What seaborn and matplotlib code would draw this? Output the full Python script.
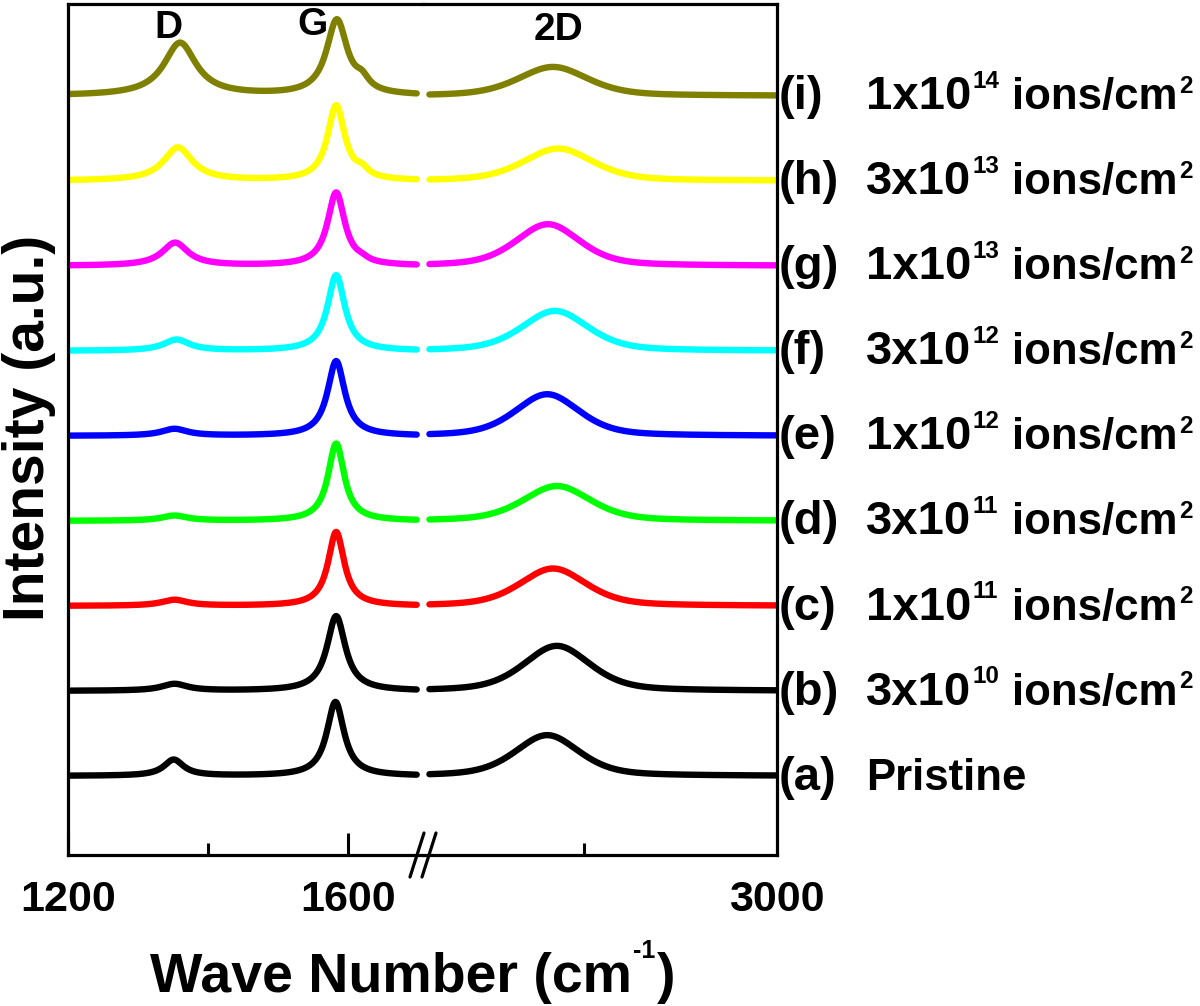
import numpy as np
import pandas as pd
import matplotlib
matplotlib.use("Agg")
import matplotlib.pyplot as plt
import matplotlib.transforms as mtransforms
from matplotlib.lines import Line2D
import seaborn as sns

# samples from bottom (a) to top (i)
samples = ["a", "b", "c", "d", "e", "f", "g", "h", "i"]
tags = ["(a)", "(b)", "(c)", "(d)", "(e)", "(f)", "(g)", "(h)", "(i)"]
doses = ["Pristine", "3x10", "1x10", "3x10", "1x10", "3x10", "1x10", "3x10", "1x10"]
exponents = [None, "10", "11", "11", "12", "12", "13", "13", "14"]
colors = ["#000000", "#000000", "#ff0000", "#00ff00", "#0000ff",
          "#00ffff", "#ff00ff", "#ffff00", "#808000"]

# peak parameters (position cm-1, height a.u., fwhm cm-1)
d_pos = [1351, 1352, 1352, 1352, 1352, 1355, 1353, 1357, 1360]
d_height = [0.19, 0.08, 0.07, 0.06, 0.08, 0.13, 0.27, 0.39, 0.62]
d_fwhm = [34, 45, 45, 45, 45, 45, 45, 50, 56]
g_pos = [1582, 1583, 1583, 1583, 1583, 1583, 1583, 1583, 1584]
g_height = [0.87, 0.88, 0.87, 0.91, 0.88, 0.89, 0.86, 0.88, 0.88]
g_fwhm = [30, 32, 28, 28, 30, 30, 30, 30, 36]
dp_pos = [1620, 1620, 1620, 1620, 1620, 1620, 1620, 1620, 1620]
dp_height = [0.0, 0.0, 0.0, 0.0, 0.0, 0.0, 0.03, 0.08, 0.12]
dp_fwhm = [20, 20, 20, 20, 20, 20, 20, 22, 24]
twod_pos = [2643, 2658, 2652, 2658, 2643, 2655, 2644, 2660, 2652]
twod_height = [0.48, 0.53, 0.44, 0.41, 0.49, 0.47, 0.49, 0.38, 0.34]
twod_fwhm = [118, 122, 122, 124, 118, 122, 118, 128, 128]

left_wn = np.arange(1200, 1699, 1.0)
right_wn = np.arange(2460, 3001, 1.0)


def peak(x, pos, height, fwhm, eta=1.0):
    # pseudo-Voigt, eta=1 is a pure Lorentzian
    u = (x - pos) / (fwhm / 2)
    return height * (eta / (1 + u ** 2) + (1 - eta) * np.exp(-np.log(2) * u ** 2))


left_rows = []
right_rows = []
for k, s in enumerate(samples):
    yl = (k + peak(left_wn, d_pos[k], d_height[k], d_fwhm[k])
          + peak(left_wn, g_pos[k], g_height[k], g_fwhm[k])
          + peak(left_wn, dp_pos[k], dp_height[k], dp_fwhm[k]))
    yr = k + peak(right_wn, twod_pos[k], twod_height[k], twod_fwhm[k], eta=0.45)
    left_rows.append(pd.DataFrame({"wn": left_wn, "intensity": yl, "sample": s}))
    right_rows.append(pd.DataFrame({"wn": right_wn, "intensity": yr, "sample": s}))
df_left = pd.concat(left_rows, ignore_index=True)
df_right = pd.concat(right_rows, ignore_index=True)

sns.set_style("white")
plt.rcParams["font.family"] = ["Liberation Sans", "DejaVu Sans"]
plt.rcParams["font.weight"] = "bold"
plt.rcParams["text.color"] = "black"
plt.rcParams["axes.labelcolor"] = "black"
plt.rcParams["xtick.color"] = "black"

palette = dict(zip(samples, colors))

fig = plt.figure(figsize=(12, 10.06), dpi=100)
axL = fig.add_axes([68 / 1200, 1 - 855 / 1006, 355 / 1200, 851 / 1006])
axR = fig.add_axes([423 / 1200, 1 - 855 / 1006, 354 / 1200, 851 / 1006])

sns.lineplot(data=df_left, x="wn", y="intensity", hue="sample", palette=palette,
             hue_order=samples, estimator=None, sort=False, linewidth=4.6,
             legend=False, ax=axL)
sns.lineplot(data=df_right, x="wn", y="intensity", hue="sample", palette=palette,
             hue_order=samples, estimator=None, sort=False, linewidth=4.6,
             legend=False, ax=axR)

ylim = (-0.93, 9.08)
axL.set_xlim(1200, 1707)
axR.set_xlim(2450, 3000)
for ax in (axL, axR):
    ax.set_ylim(*ylim)
    ax.set_yticks([])
    ax.set_xlabel("")
    ax.set_ylabel("")
    for sp in ax.spines.values():
        sp.set_linewidth(2.3)
        sp.set_color("black")
    ax.tick_params(axis="x", which="both", direction="in", bottom=True, top=False,
                   width=2.2, labelsize=31, pad=18, colors="black")
    ax.tick_params(axis="x", which="major", length=16)
    ax.tick_params(axis="x", which="minor", length=8.5)

axL.spines["right"].set_visible(False)
axR.spines["left"].set_visible(False)
axL.set_xticks([1200, 1600])
axL.set_xticks([1400], minor=True)
axR.set_xticks([3000])
axR.set_xticks([2700], minor=True)
axR.tick_params(axis="x", which="major", length=0)

# peak names
axL.text(1343, 8.8, "D", fontsize=28, fontweight="bold", ha="center", va="center")
axL.text(1549, 8.83, "G", fontsize=28, fontweight="bold", ha="center", va="center")
axR.text(2660, 8.78, "2D", fontsize=28, fontweight="bold", ha="center", va="center")


def add_sup(ax, anchor, txt, size, rise):
    return ax.annotate(txt, xy=(1, 1), xycoords=anchor, xytext=(1, rise),
                       textcoords="offset points", fontsize=size, fontweight="bold",
                       ha="left", va="top", annotation_clip=False)


# sample labels at the right of the frame, in three columns
trans = mtransforms.blended_transform_factory(axR.transAxes, axR.transData)
x_tag = (779 - 423) / 354
x_dose = (866 - 423) / 354
x_ions = (1012 - 423) / 354
for k in range(len(samples)):
    y = k - 0.16
    axR.text(x_tag, y, tags[k], transform=trans, fontsize=34, fontweight="bold",
             ha="left", va="baseline", clip_on=False)
    if exponents[k] is None:
        axR.text(x_dose, y, doses[k], transform=trans, fontsize=31.5,
                 fontweight="bold", ha="left", va="baseline", clip_on=False)
        continue
    dose = axR.text(x_dose, y, doses[k], transform=trans, fontsize=34,
                    fontweight="bold", ha="left", va="baseline", clip_on=False)
    add_sup(axR, dose, exponents[k], 17.5, 4)
    ions = axR.text(x_ions, y, "ions/cm", transform=trans, fontsize=31.5,
                    fontweight="bold", ha="left", va="baseline", clip_on=False)
    add_sup(axR, ions, "2", 17.5, 2)

# axis break marks
for x0 in (410, 422):
    fig.add_artist(Line2D([x0 / 1200, (x0 + 14) / 1200],
                          [1 - 877 / 1006, 1 - 833 / 1006],
                          color="black", linewidth=2.3))

fig.text(44 / 1200, 1 - 428 / 1006, "Intensity (a.u.)", rotation=90, fontsize=41,
         fontweight="bold", ha="center", va="baseline", rotation_mode="anchor")

xl = fig.text(150 / 1200, 1 - 992 / 1006, "Wave Number (cm", fontsize=40,
              fontweight="bold", ha="left", va="baseline")
xs = add_sup(axL, xl, "-1", 18, 9)
axL.annotate(")", xy=(1, 0), xycoords=(xs, xl), xytext=(1, 0),
             textcoords="offset points", fontsize=40, fontweight="bold",
             ha="left", va="bottom", annotation_clip=False)

fig.savefig("out.png", dpi=100)
